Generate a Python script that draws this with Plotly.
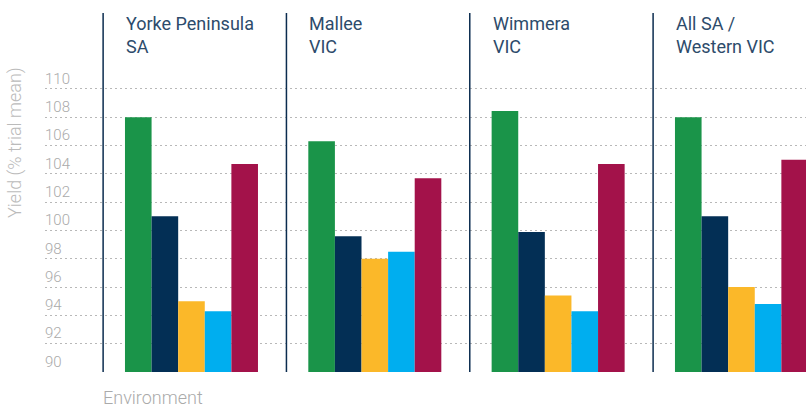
import plotly.graph_objects as go

environments = ["Yorke Peninsula<br>SA", "Mallee<br>VIC", "Wimmera<br>VIC", "All SA /<br>Western VIC"]
series_names = ["Series 1", "Series 2", "Series 3", "Series 4", "Series 5"]
series_colors = ["#1a9449", "#032f55", "#fbb829", "#00aeef", "#a3124a"]
values = [
    [108.0, 106.3, 108.45, 108.0],
    [101.0, 99.6, 99.9, 101.0],
    [95.0, 98.0, 95.4, 96.0],
    [94.3, 98.5, 94.3, 94.8],
    [104.7, 103.7, 104.7, 105.0],
]
y_ticks = list(range(90, 111, 2))

x_idx = list(range(len(environments)))
fig = go.Figure()
for name, col, vals in zip(series_names, series_colors, values):
    fig.add_trace(go.Bar(x=x_idx, y=vals, name=name, marker=dict(color=col, line=dict(width=0))))

sep_offset = 0.482
for i in x_idx:
    fig.add_shape(type="line", xref="x", yref="paper", x0=i - sep_offset, x1=i - sep_offset,
                  y0=0, y1=1, line=dict(color="#0b2c4f", width=1.5), layer="above")
    fig.add_annotation(x=i - sep_offset, y=1, xref="x", yref="paper", text=environments[i],
                       showarrow=False, xanchor="left", yanchor="top", align="left",
                       xshift=21, yshift=2,
                       font=dict(family="Roboto", size=18, color="#2d4b6b"))

fig.add_annotation(x=(102 - 45) / 761, y=-0.0724, xref="paper", yref="paper", text="Environment",
                   showarrow=False, xanchor="left", yanchor="middle", borderpad=0,
                   font=dict(family="Roboto", size=18, color="#aaaaaa", weight=300))
fig.add_annotation(x=(15 - 45) / 761, y=0.638, xref="paper", yref="paper", text="Yield (% trial mean)",
                   showarrow=False, xanchor="center", yanchor="middle", textangle=-90,
                   font=dict(family="Roboto", size=18, color="#bbbbbb", weight=300))

fig.update_layout(
    width=806, height=411,
    margin=dict(l=45, r=0, t=13, b=39, autoexpand=False),
    plot_bgcolor="white", paper_bgcolor="white",
    barmode="group", bargap=0.2745, bargroupgap=0,
    showlegend=False,
    xaxis=dict(range=[-0.799, 3.352], showticklabels=False, showgrid=False, zeroline=False,
               showline=False, ticks="", automargin=False),
    yaxis=dict(range=[90, 115.37], tickvals=y_ticks, ticklabelposition="inside top",
               ticklabelstandoff=-3,
               showgrid=True, gridcolor="#b8b8b8", griddash="2px,3px", gridwidth=1,
               zeroline=False, showline=False, ticks="", automargin=False,
               tickfont=dict(family="Roboto", size=15, color="#aaaaaa", weight=300)),
)
fig.write_html("out.html", config={"displayModeBar": False})
with open("out.html", "r", encoding="utf-8") as f:
    html = f.read()
html = html.replace("<head>", "<head><style>html,body{margin:0;padding:0;overflow:hidden;}</style>", 1)
with open("out.html", "w", encoding="utf-8") as f:
    f.write(html)
